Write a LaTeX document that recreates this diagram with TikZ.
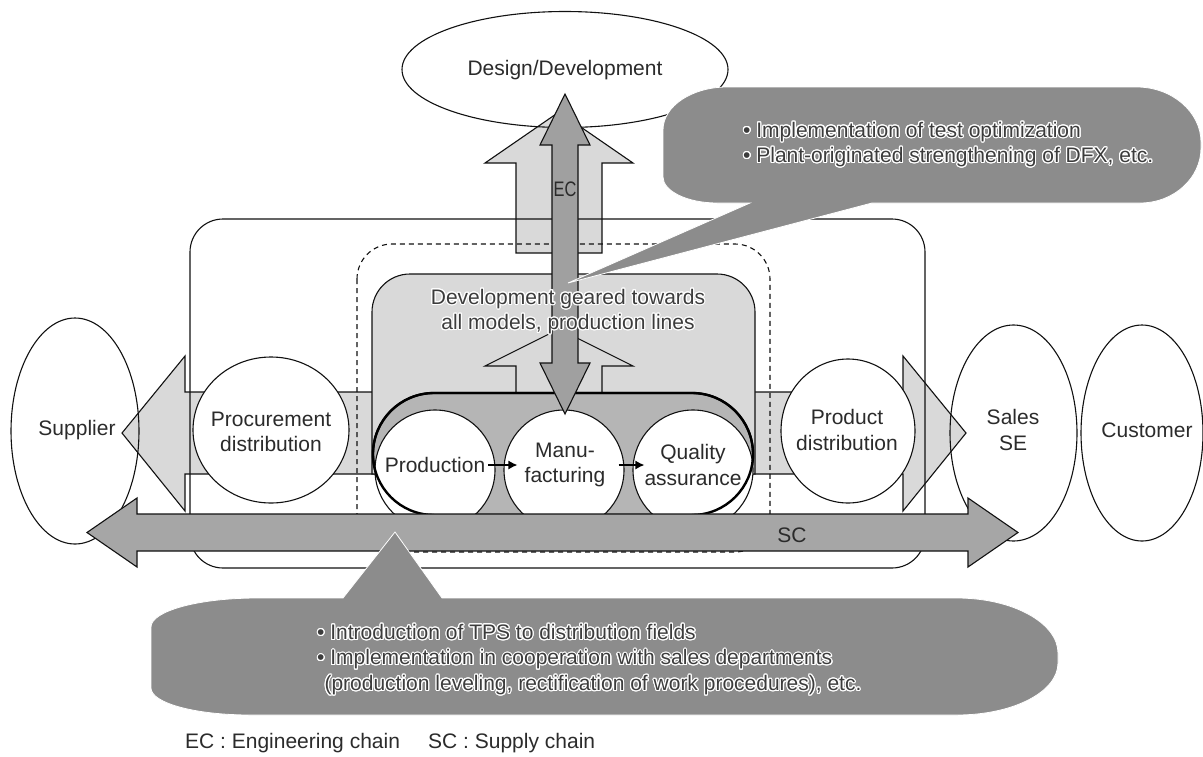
\documentclass[tikz,border=0pt]{standalone}
\usepackage{fontspec}
\setmainfont{Liberation Sans}
\usepackage{contour}
\contourlength{1.1pt}
\contournumber{20}
\usetikzlibrary{shapes.geometric,arrows.meta}
\definecolor{lgray}{HTML}{D9D9D9}
\definecolor{pillgray}{HTML}{B5B5B5}
\definecolor{ecgray}{HTML}{A0A0A0}
\definecolor{scgray}{HTML}{A6A6A6}
\definecolor{cgray}{HTML}{8C8C8C}
\definecolor{ln}{HTML}{111111}
\definecolor{txt}{HTML}{2B2B2B}
\definecolor{htxtc}{HTML}{3C3C3C}
\newcommand{\fs}{\fontsize{21pt}{25.5pt}\selectfont}
\newcommand{\halo}[1]{\contour{white}{#1}}
\tikzset{
  lbl/.style={font=\fs, text=txt, align=center, inner sep=1pt},
  htxt/.style={font=\fs, text=htxtc, align=center, inner sep=1pt},
  ctxt/.style={font=\fs, text=htxtc, align=left, inner sep=1pt, anchor=west},
  shp/.style={ellipse, draw=ln, line width=1.1pt, inner sep=0pt},
  circ/.style={circle, draw=ln, fill=white, line width=1.1pt, inner sep=0pt, minimum size=120pt},
  band/.style={fill=lgray, draw=ln, line width=1.1pt},
  frame/.style={draw=ln, line width=1.1pt},
  dashframe/.style={draw=ln, line width=1.1pt, dash pattern=on 5pt off 4pt},
  pill/.style={fill=pillgray, draw=black, line width=2.2pt},
  pillline/.style={draw=black, line width=2.4pt},
  scarrow/.style={fill=scgray, draw=ln, line width=1.1pt},
  ecarrow/.style={fill=ecgray, draw=ln, line width=1.1pt},
  callout/.style={fill=cgray, draw=white, line width=0.8pt},
  smallarr/.style={draw=black, line width=1.4pt, -{Latex[length=9pt,width=9pt]}},
}
\begin{document}
\begin{tikzpicture}[x=1pt,y=-1pt,line join=miter]
\useasboundingbox (0,0) rectangle (1203,756);

% side band arrows
\filldraw[band] (380,392) -- (185,392) -- (185,356) -- (122,433) -- (185,511) -- (185,474) -- (380,474);
\filldraw[band] (745,392) -- (903,392) -- (903,356) -- (966,433) -- (903,511) -- (903,474) -- (745,474);

% upper light arrow
\filldraw[band] (516,253) -- (516,163) -- (485,163) -- (559,112) -- (633,163) -- (602,163) -- (602,253) -- cycle;

% design ellipse
\node[shp, minimum width=326pt, minimum height=116pt] (design) at (565,69.5) {};
\node[lbl] (designtxt) at (565,70) {Design/Development};

% frames
\draw[frame, rounded corners=33pt] (190,219) rectangle (925,568);
\draw[dashframe, rounded corners=35pt] (357,244) rectangle (770,552);

% development box
\filldraw[band] (372,474) -- (372,312) arc[start angle=180,end angle=270,radius=38] -- (717,274) arc[start angle=270,end angle=360,radius=38] -- (755,474) -- cycle;

% lower light arrow
\filldraw[band] (516,393) -- (516,366) -- (485,366) -- (559,329) -- (633,366) -- (602,366) -- (602,393);

% pill
\filldraw[pill] (434,393) -- (692,393) arc[start angle=270,end angle=450,radius=61] -- (434,515) arc[start angle=90,end angle=270,radius=61] -- cycle;

% process circles
\node[circ] (prod) at (435,470) {};
\node[circ] (manu) at (564,470) {};
\node[circ] (qual) at (693,470) {};
% pill outline over the circles
\draw[pillline] (434,515) arc[start angle=90,end angle=270,radius=61] -- (692,393) arc[start angle=270,end angle=450,radius=61];
\node[lbl] (prodtxt) at (435,465) {Production};
\node[lbl] (manutxt) at (565,465) {Manu-\\facturing};
\node[lbl] (qualtxt) at (693,465) {Quality\\assurance};
\draw[smallarr] ([xshift=2pt]prodtxt.east) -- ([xshift=14pt,yshift=5pt]manu.west);
\draw[smallarr] ([xshift=-6pt,yshift=5pt]manu.east) -- ([xshift=12pt,yshift=5pt]qual.west);

% distribution circles
\node[shp, fill=white, minimum width=156pt, minimum height=146pt] (proc) at (271,430) {};
\node[lbl] (proctxt) at (271,432) {Procurement\\distribution};
\node[shp, fill=white, minimum width=134pt, minimum height=144pt] (pdist) at (848,431) {};
\node[lbl] (pdisttxt) at (847,430) {Product\\distribution};

% outer ellipses
\node[shp, minimum width=128pt, minimum height=226pt] (supp) at (75,431) {};
\node[lbl] (supptxt) at (77,430) {Supplier};
\node[shp, minimum width=127pt, minimum height=216pt] (sales) at (1013.5,433) {};
\node[lbl] (salestxt) at (1013,430) {Sales\\SE};
\node[shp, minimum width=122pt, minimum height=216pt] (cust) at (1142,433) {};
\node[lbl] (custtxt) at (1147,430) {Customer};

% SC arrow
\filldraw[scarrow] (137,514) -- (968,514) -- (968,498) -- (1018,532.5) -- (968,567) -- (968,551) -- (137,551) -- (137,567) -- (87,532.5) -- (137,498) -- cycle;
\node[lbl] (sclbl) at (792,535) {SC};

% EC arrow
\filldraw[ecarrow] (552,145) -- (540,145) -- (565,94) -- (590,145) -- (578,145) -- (578,363) -- (590,363) -- (565,414) -- (540,363) -- (552,363) -- cycle;
\node[lbl] (eclbl) at (565,189) {\scalebox{0.78}[1]{EC}};

% development text
\node[htxt] (devtxt) at (568,312) {\halo{Development geared towards}\\\halo{all models, production lines}};

% top callout
\filldraw[callout] (727,87) -- (1137,87) .. controls (1172,87) and (1201,112) .. (1201,142) -- (1201,148) .. controls (1201,178) and (1174,203) .. (1140,203) -- (872,203) -- (568,283) -- (750,203) -- (717,203) .. controls (687,203) and (663,191) .. (663,177) -- (663,130) .. controls (663,106) and (692,87) .. (727,87) -- cycle;
\node[ctxt] (toptxt) at (742,145) {\halo{\textbullet\ Implementation of test optimization}\\\halo{\textbullet\ Plant-originated strengthening of DFX, etc.}};

% bottom callout
\filldraw[callout] (257,598) -- (343,598) -- (395,532) -- (442,598) -- (957,598) .. controls (1013,598) and (1058,623) .. (1058,653) -- (1058,663) .. controls (1058,692) and (1013,715) .. (957,715) -- (250,715) .. controls (195,715) and (151,703) .. (151,688) -- (151,627) .. controls (151,611) and (198.5,598) .. (257,598) -- cycle;
\node[ctxt] (bottxt) at (316,660) {\halo{\textbullet\ Introduction of TPS to distribution fields}\\\halo{\textbullet\ Implementation in cooperation with sales departments}\\\phantom{\textbullet}\halo{(production leveling, rectification of work procedures), etc.}};

% legend
\node[lbl, anchor=west] (leg1) at (184,743) {EC : Engineering chain};
\node[lbl, anchor=west] (leg2) at (427,743) {SC : Supply chain};
\end{tikzpicture}
\end{document}
